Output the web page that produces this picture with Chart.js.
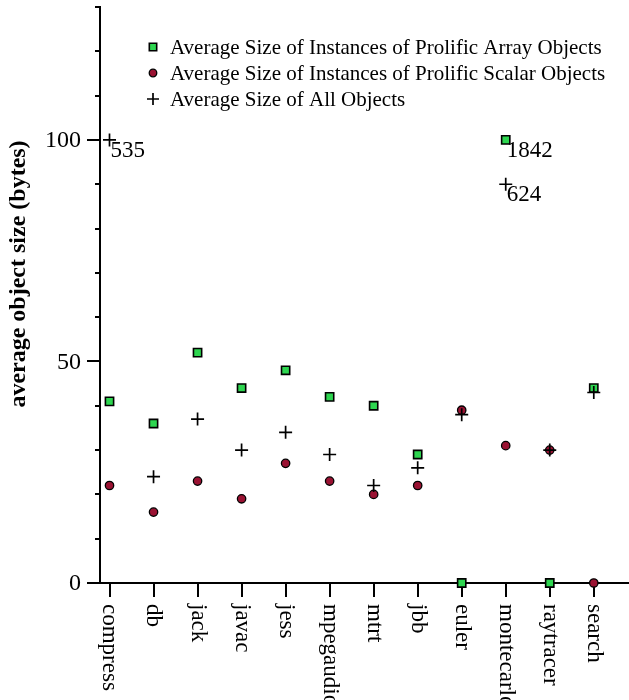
<!DOCTYPE html>
<html>
<head>
<meta charset="utf-8">
<script src="https://cdn.jsdelivr.net/npm/chart.js@4.4.1/dist/chart.umd.min.js"></script>
<style>
html, body { margin: 0; padding: 0; background: #fff; }
#wrap { width: 629px; height: 700px; position: relative; }
</style>
</head>
<body>
<div id="wrap"><canvas id="chart"></canvas></div>
<script>
const benchmarks = ["compress", "db", "jack", "javac", "jess", "mpegaudio", "mtrt", "jbb", "euler", "montecarlo", "raytracer", "search"];

// plotted heights (off-scale values are pinned near the top, true value in the notes)
const arraySizes  = [41, 36, 52, 44, 48, 42, 40, 29, 0, 100, 0, 44];
const scalarSizes = [22, 16, 23, 19, 27, 23, 20, 22, 39, 31, 30, 0];
const allSizes    = [100, 24, 37, 30, 34, 29, 22, 26, 38, 90, 30, 43];
const arrayNotes  = [null, null, null, null, null, null, null, null, null, "1842", null, null];
const allNotes    = ["535", null, null, null, null, null, null, null, null, "624", null, null];

const yLabels = [0, 50, 100];
const yMax = 130;
const yTitle = "average object size (bytes)";

const SERIF = '"Liberation Serif", "Times New Roman", serif';

function toPoints(values) {
    return values.map((v, i) => ({ x: i, y: v }));
}

const datasets = [
    {
        label: "Average Size of Instances of Prolific Array Objects",
        data: toPoints(arraySizes),
        notes: arrayNotes,
        pointStyle: 'rect',
        pointRadius: 5.8,
        backgroundColor: '#2ed650',
        borderColor: '#000',
        borderWidth: 1.6,
        order: 3
    },
    {
        label: "Average Size of Instances of Prolific Scalar Objects",
        data: toPoints(scalarSizes),
        notes: null,
        pointStyle: 'circle',
        pointRadius: 4.2,
        backgroundColor: '#9a1232',
        borderColor: '#000',
        borderWidth: 1.3,
        order: 2
    },
    {
        label: "Average Size of All Objects",
        data: toPoints(allSizes),
        notes: allNotes,
        pointStyle: 'cross',
        pointRadius: 6.5,
        backgroundColor: '#000',
        borderColor: '#000',
        borderWidth: 1.7,
        order: 1
    }
];
datasets.forEach(d => { d.showLine = false; d.clip = false; d.pointHoverRadius = d.pointRadius; });

function line(ctx, x1, y1, x2, y2) {
    ctx.beginPath();
    ctx.moveTo(x1, y1);
    ctx.lineTo(x2, y2);
    ctx.stroke();
}

// tick marks sit under the markers
const tickPlugin = {
    id: 'tickMarks',
    beforeDatasetsDraw(chart) {
        const { ctx, chartArea, scales: { x, y } } = chart;
        ctx.save();
        ctx.strokeStyle = '#000';
        ctx.lineWidth = 2;
        for (let v = 0; v <= yMax; v += 10) {
            const py = Math.round(y.getPixelForValue(v));
            const len = v % 50 === 0 ? 13 : 5;
            line(ctx, chartArea.left - len, py, chartArea.left, py);
        }
        benchmarks.forEach((b, i) => {
            const px = Math.round(x.getPixelForValue(i));
            line(ctx, px, chartArea.bottom, px, chartArea.bottom + 14);
        });
        ctx.restore();
    }
};

// text: tick labels, y title, legend, off-scale values
const textPlugin = {
    id: 'paperText',
    afterDraw(chart) {
        const { ctx, chartArea, scales: { x, y } } = chart;
        ctx.save();
        ctx.fillStyle = '#000';

        ctx.font = '24px ' + SERIF;
        ctx.textAlign = 'right';
        ctx.textBaseline = 'middle';
        yLabels.forEach(v => {
            ctx.fillText(String(v), chartArea.left - 19, y.getPixelForValue(v) + 1);
        });

        ctx.font = '23px ' + SERIF;
        ctx.textAlign = 'left';
        benchmarks.forEach((b, i) => {
            ctx.save();
            ctx.translate(x.getPixelForValue(i), chartArea.bottom + 21);
            ctx.rotate(Math.PI / 2);
            ctx.fillText(b, 0, 0);
            ctx.restore();
        });

        ctx.save();
        ctx.font = 'bold 24px ' + SERIF;
        ctx.textAlign = 'center';
        ctx.translate(19, 274);
        ctx.rotate(-Math.PI / 2);
        ctx.fillText(yTitle, 0, 0);
        ctx.restore();

        // values that run off the scale
        ctx.font = '23px ' + SERIF;
        ctx.textAlign = 'left';
        ctx.textBaseline = 'alphabetic';
        chart.data.datasets.forEach((ds, di) => {
            if (!ds.notes) return;
            const meta = chart.getDatasetMeta(di);
            ds.notes.forEach((n, i) => {
                if (!n) return;
                const pt = meta.data[i];
                ctx.fillText(n, pt.x + 1, pt.y + 17);
            });
        });

        // legend
        const rowY = [47, 73, 99];
        ctx.font = '21px ' + SERIF;
        ctx.textBaseline = 'middle';
        chart.data.datasets.forEach((ds, di) => {
            ctx.fillStyle = ds.backgroundColor;
            ctx.strokeStyle = ds.borderColor;
            ctx.lineWidth = ds.borderWidth;
            Chart.helpers.drawPoint(ctx, {
                pointStyle: ds.pointStyle,
                radius: ds.pointStyle === 'cross' ? 6 : ds.pointRadius * 0.9,
                rotation: 0,
                borderWidth: ds.borderWidth
            }, 153, rowY[di]);
            ctx.fillStyle = '#000';
            ctx.fillText(ds.label, 170, rowY[di] + 1);
        });
        ctx.restore();
    }
};

new Chart(document.getElementById('chart'), {
    type: 'scatter',
    data: { datasets: datasets },
    options: {
        responsive: true,
        maintainAspectRatio: false,
        animation: false,
        events: [],
        layout: { autoPadding: false, padding: { top: 7, left: 0, right: 0, bottom: 0 } },
        plugins: {
            legend: { display: false },
            tooltip: { enabled: false },
            title: { display: false }
        },
        scales: {
            x: {
                type: 'linear',
                min: -0.216,
                max: 11.8,
                grid: { display: false },
                border: { display: true, color: '#000', width: 2 },
                ticks: { display: false },
                afterFit(scale) { scale.height = 117; }
            },
            y: {
                type: 'linear',
                min: 0,
                max: yMax,
                grid: { display: false },
                border: { display: true, color: '#000', width: 2 },
                ticks: { display: false, stepSize: 10 },
                afterFit(scale) { scale.width = 100; }
            }
        }
    },
    plugins: [tickPlugin, textPlugin]
});
</script>
</body>
</html>
